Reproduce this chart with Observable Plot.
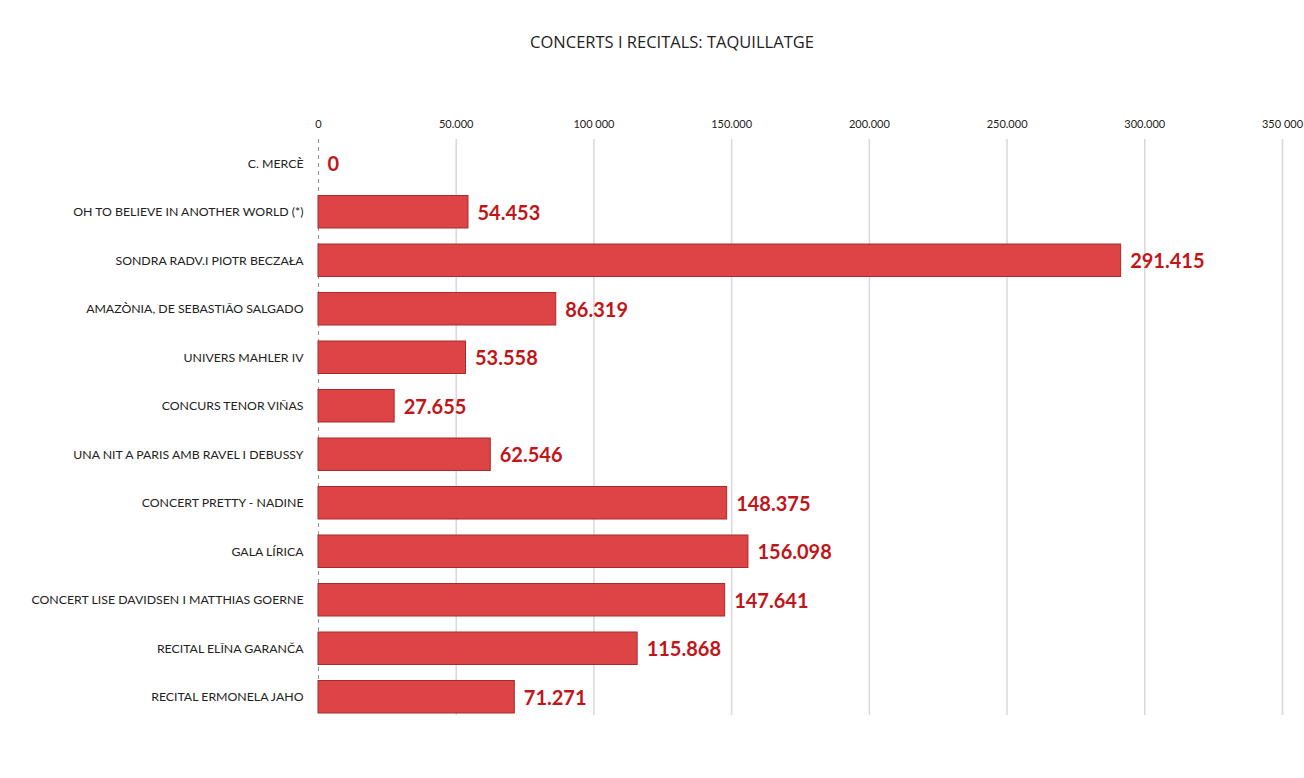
<!DOCTYPE html>
<html>
<head>
<meta charset="utf-8">
<script src="https://cdn.jsdelivr.net/npm/d3@7"></script>
<script src="https://cdn.jsdelivr.net/npm/@observablehq/plot@0.6"></script>
<style>
  body { margin: 0; background: #fff; }
  #title { height: 60px; box-sizing: border-box; padding-top: 30px; text-align: center; font-family: "Open Sans", Lato, sans-serif; font-size: 16.5px; color: #222; padding-left: 40px; }
</style>
</head>
<body>
<div id="title">CONCERTS I RECITALS: TAQUILLATGE</div>
<div id="chart"></div>
<script>
const categories = [
  "C. MERCÈ",
  "OH TO BELIEVE IN ANOTHER WORLD (*)",
  "SONDRA RADV.I PIOTR BECZAŁA",
  "AMAZÒNIA, DE SEBASTIÃO SALGADO",
  "UNIVERS MAHLER IV",
  "CONCURS TENOR VIÑAS",
  "UNA NIT A PARIS AMB RAVEL I DEBUSSY",
  "CONCERT PRETTY - NADINE",
  "GALA LÍRICA",
  "CONCERT LISE DAVIDSEN I MATTHIAS GOERNE",
  "RECITAL ELĪNA GARANČA",
  "RECITAL ERMONELA JAHO"
];
const values = [0, 54453, 291415, 86319, 53558, 27655, 62546, 148375, 156098, 147641, 115868, 71271];
const valueLabels = ["0", "54.453", "291.415", "86.319", "53.558", "27.655", "62.546", "148.375", "156.098", "147.641", "115.868", "71.271"];
const tickValues = [0, 50000, 100000, 150000, 200000, 250000, 300000, 350000];
const tickLabels = ["0", "50.000", "100 000", "150.000", "200.000", "250.000", "300.000", "350 000"];

const data = categories.map((c, i) => ({name: c, value: values[i], label: valueLabels[i]}));

const chart = Plot.plot({
  width: 1304,
  height: 718,
  marginLeft: 318,
  marginRight: 22,
  marginTop: 79,
  marginBottom: 57,
  style: {fontFamily: "Lato, 'Open Sans', sans-serif", background: "#fff"},
  x: {domain: [0, 350000], axis: "top", ticks: tickValues, tickFormat: (d) => tickLabels[tickValues.indexOf(d)], tickSize: 0, tickPadding: 12, label: null},
  y: {domain: categories, padding: 0, round: false, tickSize: 0, tickPadding: 15, label: null},
  marks: [
    Plot.ruleX(tickValues.slice(1), {stroke: "#d8d8d8", strokeWidth: 1.5, insetBottom: 6}),
    Plot.ruleX([0], {stroke: "#999", strokeDasharray: "4,4", strokeWidth: 1, insetBottom: 6}),
    Plot.barX(data, {y: "name", x: "value", insetTop: 8, insetBottom: 8, fill: "#dc4446", stroke: "#a82a2c", strokeWidth: 1}),
    Plot.text(data, {y: "name", x: "value", text: "label", textAnchor: "start", dx: 9, dy: 1, fill: "#c0161a", fontSize: 20, fontWeight: "bold", fontFamily: "Lato, 'Open Sans', sans-serif"})
  ]
});
document.getElementById("chart").appendChild(chart);
d3.select(chart).selectAll("g[aria-label='y-axis tick label']").attr("font-size", 12.3).attr("fill", "#222");
d3.select(chart).selectAll("g[aria-label='x-axis tick label']").attr("font-size", 11).attr("fill", "#222");
</script>
</body>
</html>
